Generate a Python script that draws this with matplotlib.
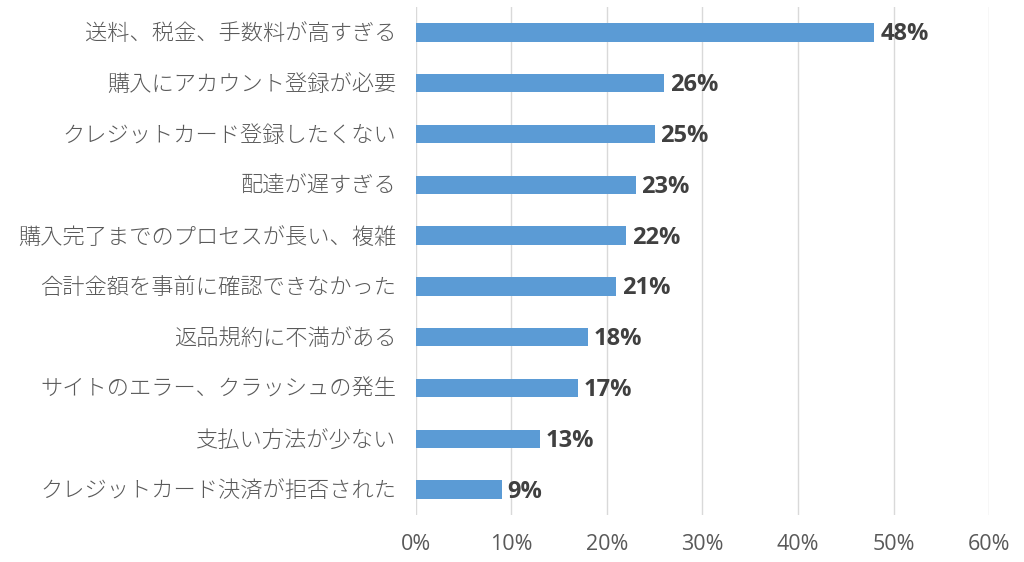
import numpy as np
import matplotlib
matplotlib.use("Agg")
import matplotlib.pyplot as plt
from matplotlib.ticker import FuncFormatter

plt.rcParams['font.family'] = ['Open Sans', 'Noto Sans CJK JP', 'DejaVu Sans']

categories = [
    "送料、税金、手数料が高すぎる",
    "購入にアカウント登録が必要",
    "クレジットカード登録したくない",
    "配達が遅すぎる",
    "購入完了までのプロセスが長い、複雑",
    "合計金額を事前に確認できなかった",
    "返品規約に不満がある",
    "サイトのエラー、クラッシュの発生",
    "支払い方法が少ない",
    "クレジットカード決済が拒否された",
]
values = [48, 26, 25, 23, 22, 21, 18, 17, 13, 9]
xticks = [0, 10, 20, 30, 40, 50, 60]

fig = plt.figure(figsize=(10.24, 5.62), dpi=100)
ax = fig.add_axes([0.406, 0.0836, 0.56, 0.904])

y = np.arange(len(categories))
ax.barh(y, values, height=0.36, color="#5B9BD5", zorder=3)
for yi, v in zip(y, values):
    ax.text(v + 0.6, yi + 0.04, f"{v}%", va="center", ha="left",
            fontsize=17, fontweight="bold", color="#404040", zorder=4)

ax.set_xlim(0, 60)
ax.set_ylim(len(categories) - 0.5, -0.5)
ax.set_xticks(xticks)
ax.xaxis.set_major_formatter(FuncFormatter(lambda v, p: f"{v:.0f}%"))
ax.set_yticks(y)
ax.set_yticklabels(categories, fontsize=16, fontweight="light")
ax.grid(axis="x", color="#D9D9D9", linewidth=1, zorder=0)
for s in ax.spines.values():
    s.set_visible(False)
ax.tick_params(axis="both", length=0, colors="#595959")
ax.tick_params(axis="x", labelsize=15.5, pad=14)
ax.tick_params(axis="y", pad=14)

fig.savefig("out.png", dpi=100)
